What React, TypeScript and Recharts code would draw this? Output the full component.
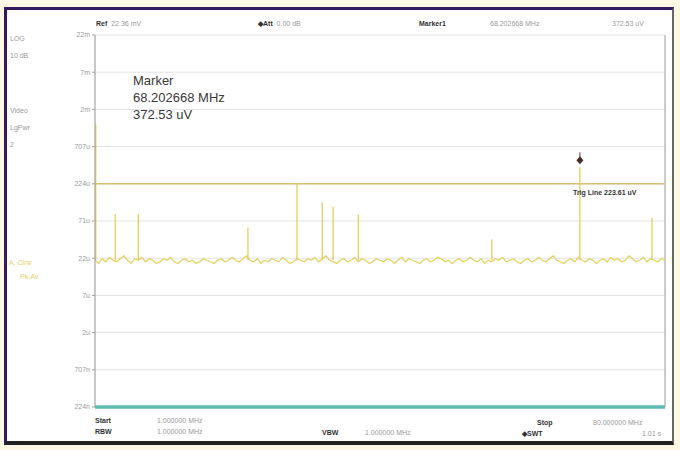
import React from 'react';
import { LineChart, Line, XAxis, YAxis, CartesianGrid, ReferenceLine, ReferenceDot } from 'recharts';

// sweep: 1 MHz .. 80 MHz, one point every 0.5 MHz
const START_MHZ = 1;
const STEP_MHZ = 0.5;

// noise floor (uV)
const floorLevels = [
  21, 19, 22, 20, 23, 21, 20, 22, 24, 21, 19, 22, 21, 23, 20, 22, 21, 19, 20, 22,
  21, 23, 20, 19, 21, 22, 20, 21, 19, 20, 22, 21, 20, 19, 21, 22, 20, 21, 23, 21,
  20, 22, 24, 21, 20, 22, 19, 21, 20, 22, 21, 20, 23, 21, 19, 20, 22, 21, 20, 22,
  21, 23, 20, 22, 24, 21, 20, 19, 21, 22, 20, 21, 23, 20, 22, 21, 19, 20, 22, 21,
  20, 22, 21, 19, 21, 23, 20, 22, 21, 20, 19, 21, 22, 20, 21, 23, 22, 20, 21, 19,
  21, 22, 20, 21, 23, 21, 20, 22, 19, 21, 20, 22, 21, 23, 20, 21, 22, 20, 19, 21,
  22, 20, 21, 23, 21, 20, 22, 24, 21, 20, 19, 21, 22, 20, 23, 21, 20, 22, 21, 19,
  21, 22, 20, 23, 21, 22, 20, 21, 24, 22, 20, 21, 23, 20, 22, 21, 20, 22, 21,
];

// discrete spurs (MHz / uV)
const spurFreqs = [1.1, 3.8, 7.0, 22.2, 29.0, 32.5, 34.0, 37.5, 56.0, 68.202668, 78.2];
const spurPeaks = [1400, 88, 88, 58, 230, 125, 110, 86, 40, 372.53, 78];
const spurBase = 21;

const yTicks = [22360, 7071, 2236, 707.1, 223.6, 70.71, 22.36, 7.071, 2.236, 0.7071, 0.2236];
const yTickLabels = ['22m', '7m', '2m', '707u', '224u', '71u', '22u', '7u', '2u', '707n', '224n'];
const xTicks = [1, 8.9, 16.8, 24.7, 32.6, 40.5, 48.4, 56.3, 64.2, 72.1, 80];

const TRIG_LEVEL = 223.61;
const MARKER_FREQ = 68.202668;
const MARKER_LEVEL = 372.53;

const traceData = floorLevels.map((v, i) => ({ f: START_MHZ + i * STEP_MHZ, v }));
const spurData: { f: number; v: number | null }[] = [];
spurFreqs.forEach((f, i) => {
  spurData.push({ f, v: spurBase });
  spurData.push({ f, v: spurPeaks[i] });
  spurData.push({ f, v: null });
});

const FONT = '"Liberation Sans", Arial, sans-serif';
const small: React.CSSProperties = { position: 'absolute', fontSize: 7, color: '#9a9a9a', whiteSpace: 'nowrap', lineHeight: '8px' };
const bold: React.CSSProperties = { ...small, color: '#333', fontWeight: 'bold' };

const MarkerShape = (props: any) => {
  const { cx, cy } = props;
  if (cx == null || cy == null) return null;
  const y = cy - 7;
  return (
    <g>
      <line x1={cx} y1={y - 8} x2={cx} y2={y} stroke="#5a3a3a" strokeWidth={1} />
      <path d={`M${cx},${y - 4} L${cx + 3.5},${y} L${cx},${y + 4} L${cx - 3.5},${y} Z`} fill="#4a2a2a" />
    </g>
  );
};

const App: React.FC = () => {
  return (
    <div style={{ position: 'absolute', left: 0, top: 0, width: 680, height: 450, background: '#fdf8e4', overflow: 'hidden', fontFamily: FONT }}>
      <div style={{
        position: 'absolute', left: 4, top: 7, width: 670, height: 438, background: '#fff', boxSizing: 'border-box',
        borderLeft: '3px solid #35195e', borderTop: '3px solid #35195e', borderRight: '2px solid #666', borderBottom: '4px solid #222',
      }} />
      <div style={{ position: 'absolute', left: 0, top: 0 }}>
        <LineChart width={680} height={450} data={traceData} margin={{ top: 35, right: 15, bottom: 42, left: 0 }}>
          <CartesianGrid stroke="#e4e4e4" horizontalValues={yTicks} />
          <XAxis type="number" dataKey="f" domain={[1, 80]} ticks={xTicks} tick={false} tickLine={false}
            height={1} axisLine={{ stroke: '#5dbdb2', strokeWidth: 3.5 }} />
          <YAxis scale="log" domain={[0.2236, 22360]} allowDataOverflow ticks={yTicks} width={95}
            tickFormatter={(v: number) => yTickLabels[yTicks.indexOf(v)] ?? ''}
            tick={{ fontSize: 7, fill: '#9a9a9a', fontFamily: FONT }} tickSize={3}
            axisLine={{ stroke: '#a0a0a0' }} tickLine={{ stroke: '#a0a0a0' }} />
          <ReferenceLine x={80} stroke="#a8a8a8" />
          <ReferenceLine y={TRIG_LEVEL} stroke="#dcc172" strokeWidth={1.5} />
          <Line dataKey="v" stroke="#e5cf5c" strokeWidth={1.2} dot={false} isAnimationActive={false} />
          <Line data={spurData} dataKey="v" stroke="#e5cf5c" strokeWidth={1.3} dot={false} connectNulls={false} isAnimationActive={false} />
          <ReferenceDot x={MARKER_FREQ} y={MARKER_LEVEL} shape={MarkerShape} />
        </LineChart>
      </div>

      {/* header */}
      <div style={{ ...bold, left: 96, top: 20 }}>Ref <span style={{ color: '#9a9a9a', fontWeight: 'normal' }}>&nbsp;22.36 mV</span></div>
      <div style={{ ...bold, left: 258, top: 20 }}>◆Att <span style={{ color: '#9a9a9a', fontWeight: 'normal' }}>&nbsp;0.00 dB</span></div>
      <div style={{ ...bold, left: 419, top: 20 }}>Marker1</div>
      <div style={{ ...small, left: 490, top: 20 }}>68.202668 MHz</div>
      <div style={{ ...small, left: 612, top: 20 }}>372.53 uV</div>

      {/* left column */}
      <div style={{ ...small, left: 10, top: 35 }}>LOG</div>
      <div style={{ ...small, left: 10, top: 52 }}>10 dB</div>
      <div style={{ ...small, left: 10, top: 107 }}>Video</div>
      <div style={{ ...small, left: 10, top: 124 }}>LgPwr</div>
      <div style={{ ...small, left: 10, top: 141 }}>2</div>
      <div style={{ ...small, left: 9, top: 259, color: '#e3cf6a' }}>A: Clrw</div>
      <div style={{ ...small, left: 20, top: 273, color: '#e3cf6a' }}>Pk-Av</div>

      {/* marker readout */}
      <div style={{ position: 'absolute', left: 133, top: 72, fontSize: 13, color: '#3a3a3a', lineHeight: '17px' }}>
        Marker<br />68.202668 MHz<br />372.53 uV
      </div>
      <div style={{ ...bold, left: 573, top: 189, fontSize: 7 }}>Trig Line 223.61 uV</div>

      {/* footer */}
      <div style={{ ...bold, left: 95, top: 417 }}>Start</div>
      <div style={{ ...small, left: 157, top: 417 }}>1.000000 MHz</div>
      <div style={{ ...bold, left: 95, top: 428 }}>RBW</div>
      <div style={{ ...small, left: 157, top: 428 }}>1.000000 MHz</div>
      <div style={{ ...bold, left: 322, top: 429 }}>VBW</div>
      <div style={{ ...small, left: 365, top: 429 }}>1.000000 MHz</div>
      <div style={{ ...bold, left: 537, top: 419 }}>Stop</div>
      <div style={{ ...small, left: 593, top: 419 }}>80.000000 MHz</div>
      <div style={{ ...bold, left: 522, top: 430 }}>◆SWT</div>
      <div style={{ ...small, left: 642, top: 430 }}>1.01 s</div>
    </div>
  );
};

export default App;
